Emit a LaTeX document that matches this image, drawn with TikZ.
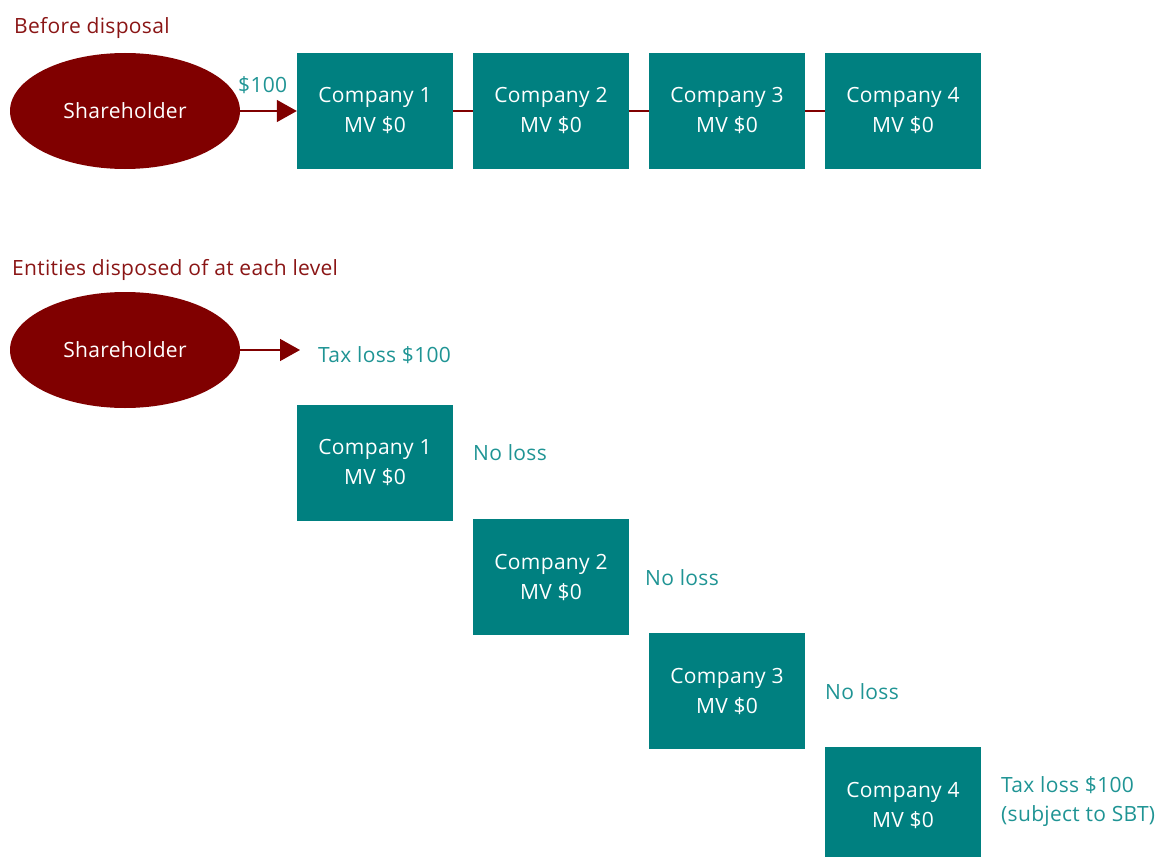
\documentclass[tikz,border=0pt]{standalone}
\usepackage{fontspec}
\setmainfont[LetterSpace=1.5]{Open Sans}
\usetikzlibrary{arrows.meta,shapes.geometric}
\definecolor{boxteal}{HTML}{008080}
\definecolor{labteal}{HTML}{1F9494}
\definecolor{darkred}{HTML}{800000}
\definecolor{headred}{HTML}{8A1515}
\begin{document}
\begin{tikzpicture}[x=1pt,y=-1pt,
  company/.style={fill=boxteal,draw=none,minimum width=156pt,minimum height=116pt,
    text=white,align=center,font=\fontsize{21}{30}\selectfont,inner sep=0pt},
  holder/.style={ellipse,fill=darkred,draw=none,minimum width=230pt,minimum height=116pt,
    text=white,font=\fontsize{21}{24}\selectfont,inner sep=0pt},
  heading/.style={anchor=base west,text=headred,font=\fontsize{21}{24}\selectfont,inner sep=0pt},
  note/.style={anchor=base west,text=labteal,font=\fontsize{21}{29}\selectfont,inner sep=0pt,align=left},
  flow/.style={darkred,line width=1.5pt,-{Triangle[length=20pt,width=22pt]}},
  link/.style={darkred,line width=1.2pt}]
\useasboundingbox (0,0) rectangle (1158,856);

% before disposal
\node[heading] (h1) at (14,34) {Before disposal};
\node[holder] (s1) at (125,111) {Shareholder};
\node[company] (a1) at (375,111) {Company 1\\MV \$0};
\node[company] (a2) at (551,111) {Company 2\\MV \$0};
\node[company] (a3) at (727,111) {Company 3\\MV \$0};
\node[company] (a4) at (903,111) {Company 4\\MV \$0};
\draw[flow] (s1.east) -- (a1.west);
\node[note] (p1) at (238,93) {\$100};
\draw[link] (a1.east) -- (a2.west);
\draw[link] (a2.east) -- (a3.west);
\draw[link] (a3.east) -- (a4.west);

% entities disposed of at each level
\node[heading] (h2) at (12,275) {Entities disposed of at each level};
\node[holder] (s2) at (125,350) {Shareholder};
\coordinate (t0) at (300,350);
\draw[flow] (s2.east) -- (t0);
\node[note] (n0) at (318,362) {Tax loss \$100};
\node[company] (b1) at (375,463) {Company 1\\MV \$0};
\node[note] (n1) at (473,460) {No loss};
\node[company] (b2) at (551,577) {Company 2\\MV \$0};
\node[note] (n2) at (645,585) {No loss};
\node[company] (b3) at (727,691) {Company 3\\MV \$0};
\node[note] (n3) at (825,699) {No loss};
\node[company] (b4) at (903,805) {Company 4\\MV \$0};
\node[note,anchor=north west] (n4) at (1001,776) {Tax loss \$100\\(subject to SBT)};
\end{tikzpicture}
\end{document}
